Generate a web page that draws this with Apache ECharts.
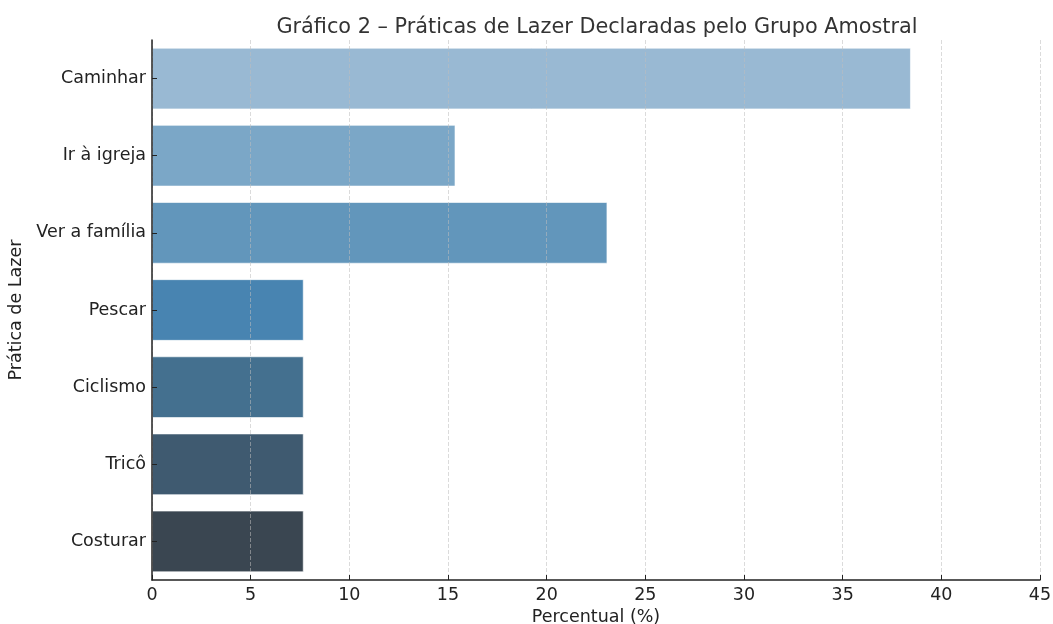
<!DOCTYPE html>
<html><head><meta charset="utf-8">
<script src="https://cdn.jsdelivr.net/npm/echarts@6/dist/echarts.min.js"></script>
<style>html,body{margin:0;padding:0;background:#fff}#c{width:1053px;height:624px}</style>
</head><body><div id="c"></div>
<script>
const categories = ["Caminhar","Ir à igreja","Ver a família","Pescar","Ciclismo","Tricô","Costurar"];
const values = [38.46, 15.38, 23.08, 7.69, 7.69, 7.69, 7.69];
const colors = ["#99b9d3","#7ba7c7","#6296bb","#4884b1","#44708f","#3f5a70","#3a4651"];
const xTicks = [0,5,10,15,20,25,30,35,40,45];

const chart = echarts.init(document.getElementById('c'), null, {renderer:'canvas'});
const font = 'DejaVu Sans';
chart.setOption({
  animation:false,
  title:{text:'Gráfico 2 – Práticas de Lazer Declaradas pelo Grupo Amostral', left:592, top:12, textAlign:'center',
    textStyle:{fontFamily:font, fontSize:20.8, fontWeight:'normal', color:'#333'}},
  grid:{left:152, right:13, top:40, bottom:44, containLabel:false, outerBoundsMode:'none'},
  xAxis:{type:'value', min:0, max:45, interval:5, z:5,
    name:'Percentual (%)', nameLocation:'middle', nameGap:26,
    nameTextStyle:{fontFamily:font, fontSize:17.5, color:'#222'},
    axisLine:{show:true, lineStyle:{color:'#222', width:1.5}},
    axisTick:{show:true, inside:true, length:5, lineStyle:{color:'#222'}},
    axisLabel:{fontFamily:font, fontSize:17.5, color:'#222', margin:6, formatter:v=>xTicks.includes(v)?String(v):''},
    splitLine:{show:true, lineStyle:{color:'rgba(190,190,190,0.55)', type:'dashed'}}},
  yAxis:{type:'category', data:categories, inverse:true, z:5,
    name:'Prática de Lazer', nameLocation:'middle', nameGap:122, nameRotate:90,
    nameTextStyle:{fontFamily:font, fontSize:17.5, color:'#222'},
    axisLine:{show:true, lineStyle:{color:'#222', width:1.5}},
    axisTick:{show:true, inside:true, alignWithLabel:true, length:5, lineStyle:{color:'#222'}},
    axisLabel:{fontFamily:font, fontSize:17.5, color:'#222', margin:6},
    splitLine:{show:false}},
  series:[{type:'bar', barWidth:'80%', z:1,
    data:values.map((v,i)=>({value:v, itemStyle:{color:colors[i], borderColor:'rgba(255,255,255,0.6)', borderWidth:1}}))}]
});
</script></body></html>
